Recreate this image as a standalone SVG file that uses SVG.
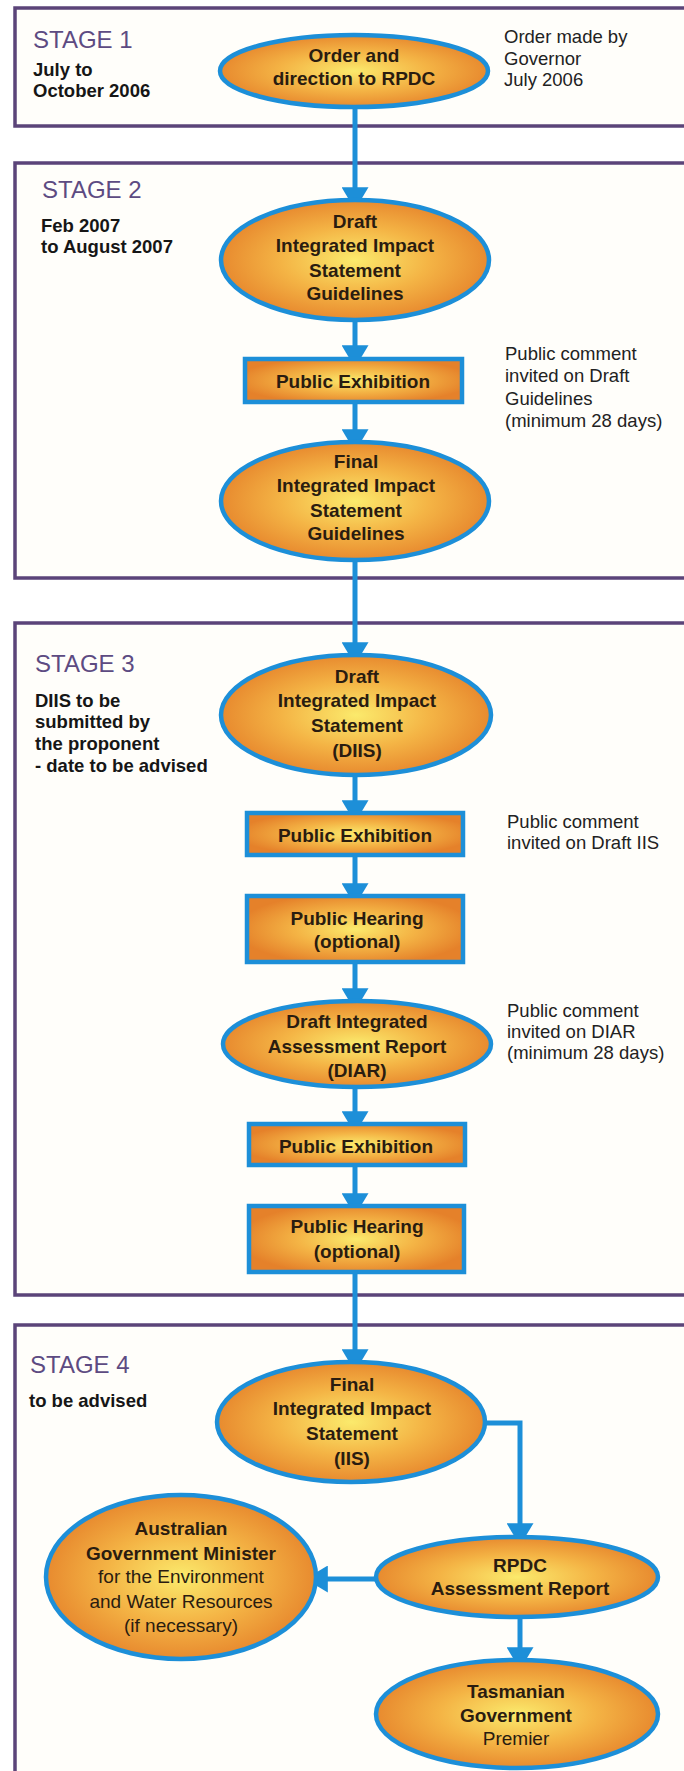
<svg xmlns="http://www.w3.org/2000/svg" width="684" height="1771" viewBox="0 0 684 1771">
<style>
.stage{fill:#fffefa;stroke:#5b4479;stroke-width:3.5}
.node{fill:url(#og);stroke:#1d8fd8;stroke-width:4.5}
.conn{fill:none;stroke:#1d8fd8;stroke-width:5;marker-end:url(#ah)}
text{font-family:"Liberation Sans",Arial,sans-serif;font-size:19px}
.nt{font-weight:bold;fill:#2a1c10;text-anchor:middle}
.nr{font-weight:normal;fill:#2a1c10;text-anchor:middle}
.st{fill:#5d4b82;font-size:24px}
.sd{font-weight:bold;fill:#161616;font-size:18.5px}
.sc{fill:#222;font-size:18.5px}
</style>
<defs>
<radialGradient id="og" cx="50%" cy="50%" r="55%">
<stop offset="0" stop-color="#fbea6c"/>
<stop offset="0.5" stop-color="#f4b445"/>
<stop offset="1" stop-color="#e5812a"/>
</radialGradient>
<marker id="ah" viewBox="0 0 10 12" markerWidth="4.6" markerHeight="5.4" refX="5.7" refY="6" orient="auto">
<path d="M0,0 L10,6 L0,12 z" fill="#1d8fd8"/>
</marker>
</defs>

<g id="stage1">
<rect class="stage" x="15" y="8" width="700" height="118"/>
<text class="st" x="33" y="48">STAGE 1</text>
<text class="sd" x="33" y="76">July to</text>
<text class="sd" x="33" y="97">October 2006</text>
<text class="sc" x="504" y="43">Order made by</text>
<text class="sc" x="504" y="65">Governor</text>
<text class="sc" x="504" y="86">July 2006</text>
</g>
<g id="stage2">
<rect class="stage" x="15" y="163" width="700" height="415"/>
<text class="st" x="42" y="198">STAGE 2</text>
<text class="sd" x="41" y="232">Feb 2007</text>
<text class="sd" x="41" y="253">to August 2007</text>
<text class="sc" x="505" y="360">Public comment</text>
<text class="sc" x="505" y="382">invited on Draft</text>
<text class="sc" x="505" y="405">Guidelines</text>
<text class="sc" x="505" y="427">(minimum 28 days)</text>
</g>
<g id="stage3">
<rect class="stage" x="15" y="623" width="700" height="672"/>
<text class="st" x="35" y="672">STAGE 3</text>
<text class="sd" x="35" y="707">DIIS to be</text>
<text class="sd" x="35" y="728">submitted by</text>
<text class="sd" x="35" y="750">the proponent</text>
<text class="sd" x="35" y="772">- date to be advised</text>
<text class="sc" x="507" y="828">Public comment</text>
<text class="sc" x="507" y="849">invited on Draft IIS</text>
<text class="sc" x="507" y="1017">Public comment</text>
<text class="sc" x="507" y="1038">invited on DIAR</text>
<text class="sc" x="507" y="1059">(minimum 28 days)</text>
</g>
<g id="stage4">
<rect class="stage" x="15" y="1325" width="700" height="500"/>
<text class="st" x="30" y="1373">STAGE 4</text>
<text class="sd" x="29" y="1407">to be advised</text>
</g>

<g id="connectors">
<path class="conn" d="M355,107 V200"/>
<path class="conn" d="M355,320 V358"/>
<path class="conn" d="M355,402 V442"/>
<path class="conn" d="M355,560 V655"/>
<path class="conn" d="M355,775 V813"/>
<path class="conn" d="M355,855 V896"/>
<path class="conn" d="M355,962 V1001"/>
<path class="conn" d="M355,1087 V1124"/>
<path class="conn" d="M355,1165 V1206"/>
<path class="conn" d="M355,1272 V1362"/>
<path class="conn" d="M484,1423 H520 V1536"/>
<path class="conn" d="M376,1579 H315"/>
<path class="conn" d="M520,1617 V1660"/>
</g>

<g id="n1">
<ellipse class="node" cx="354" cy="71" rx="134" ry="36"/>
<text class="nt" x="354" y="62">Order and</text>
<text class="nt" x="354" y="85">direction to RPDC</text>
</g>
<g id="n2">
<ellipse class="node" cx="355" cy="260" rx="134" ry="60"/>
<text class="nt" x="355" y="228">Draft</text>
<text class="nt" x="355" y="252">Integrated Impact</text>
<text class="nt" x="355" y="277">Statement</text>
<text class="nt" x="355" y="300">Guidelines</text>
</g>
<g id="n3">
<rect class="node" x="245" y="359" width="217" height="43"/>
<text class="nt" x="353" y="388">Public Exhibition</text>
</g>
<g id="n4">
<ellipse class="node" cx="355" cy="501" rx="134" ry="59"/>
<text class="nt" x="356" y="468">Final</text>
<text class="nt" x="356" y="492">Integrated Impact</text>
<text class="nt" x="356" y="517">Statement</text>
<text class="nt" x="356" y="540">Guidelines</text>
</g>
<g id="n5">
<ellipse class="node" cx="356" cy="715" rx="135" ry="60"/>
<text class="nt" x="357" y="683">Draft</text>
<text class="nt" x="357" y="707">Integrated Impact</text>
<text class="nt" x="357" y="732">Statement</text>
<text class="nt" x="357" y="757">(DIIS)</text>
</g>
<g id="n6">
<rect class="node" x="247" y="813" width="216" height="42"/>
<text class="nt" x="355" y="842">Public Exhibition</text>
</g>
<g id="n7">
<rect class="node" x="247" y="896" width="216" height="66"/>
<text class="nt" x="357" y="925">Public Hearing</text>
<text class="nt" x="357" y="948">(optional)</text>
</g>
<g id="n8">
<ellipse class="node" cx="357" cy="1044" rx="134" ry="43"/>
<text class="nt" x="357" y="1028">Draft Integrated</text>
<text class="nt" x="357" y="1053">Assessment Report</text>
<text class="nt" x="357" y="1077">(DIAR)</text>
</g>
<g id="n9">
<rect class="node" x="249" y="1124" width="216" height="41"/>
<text class="nt" x="356" y="1153">Public Exhibition</text>
</g>
<g id="n10">
<rect class="node" x="249" y="1206" width="215" height="66"/>
<text class="nt" x="357" y="1233">Public Hearing</text>
<text class="nt" x="357" y="1258">(optional)</text>
</g>
<g id="n11">
<ellipse class="node" cx="351" cy="1422" rx="134" ry="60"/>
<text class="nt" x="352" y="1391">Final</text>
<text class="nt" x="352" y="1415">Integrated Impact</text>
<text class="nt" x="352" y="1440">Statement</text>
<text class="nt" x="352" y="1465">(IIS)</text>
</g>
<g id="n12">
<ellipse class="node" cx="517" cy="1577" rx="141" ry="40"/>
<text class="nt" x="520" y="1572">RPDC</text>
<text class="nt" x="520" y="1595">Assessment Report</text>
</g>
<g id="n13">
<ellipse class="node" cx="181" cy="1577" rx="135" ry="82"/>
<text class="nt" x="181" y="1535">Australian</text>
<text class="nt" x="181" y="1560">Government Minister</text>
<text class="nr" x="181" y="1583">for the Environment</text>
<text class="nr" x="181" y="1608">and Water Resources</text>
<text class="nr" x="181" y="1632">(if necessary)</text>
</g>
<g id="n14">
<ellipse class="node" cx="517" cy="1714" rx="141" ry="54"/>
<text class="nt" x="516" y="1698">Tasmanian</text>
<text class="nt" x="516" y="1722">Government</text>
<text class="nr" x="516" y="1745">Premier</text>
</g>
</svg>
